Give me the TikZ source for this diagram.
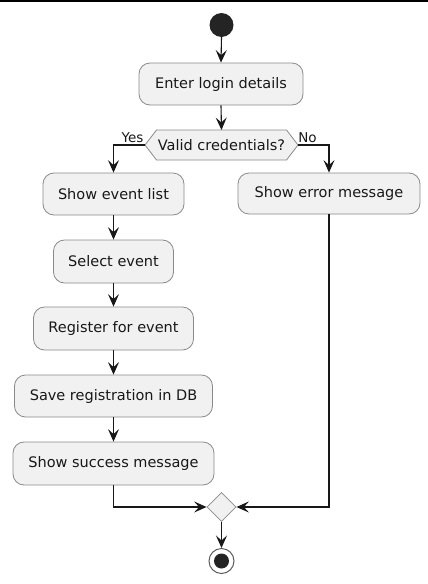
\documentclass[tikz,border=0pt]{standalone}
\usepackage{fontspec}
\setmainfont{DejaVu Sans}
\usetikzlibrary{arrows.meta,shapes.geometric}
\definecolor{boxfill}{HTML}{F1F1F1}
\definecolor{ink}{HTML}{181818}
\definecolor{rim}{HTML}{8A8A8A}
\begin{document}
\begin{tikzpicture}[x=1pt,y=-1pt,
  act/.style={rounded corners=11pt, draw=rim, fill=boxfill, line width=0.8pt,
    minimum height=42pt, inner sep=0pt, font=\fontsize{14.5}{17}\selectfont, text=ink},
  arr/.style={draw=ink, line width=1.1pt, -{Stealth[length=12.5pt,width=11pt,inset=5pt]}},
  lin/.style={draw=ink, line width=1.1pt},
  lbl/.style={font=\fontsize{13.5}{16}\selectfont, text=ink, inner sep=0pt}]
\useasboundingbox (0,0) rectangle (428,584);
\draw[line width=1.6pt, black] (0,0.8) -- (428,0.8);
% start
\node[circle, fill=ink!95, minimum size=24pt, inner sep=0pt] (start) at (221.5,25) {};
\node[act, minimum width=164pt] (login) at (221,84) {Enter login details};
% decision hexagon
\coordinate (decT) at (221.5,130);
\coordinate (decL) at (145,145);
\coordinate (decR) at (298,145);
\draw[draw=rim, fill=boxfill, line width=0.8pt]
  (decL) -- (156.5,130) -- (286.5,130) -- (decR) -- (286.5,160) -- (156.5,160) -- cycle;
\node[font=\fontsize{14.5}{17}\selectfont, text=ink, inner sep=0pt] (dec) at (221.5,145) {Valid credentials?};
% left branch
\node[act, minimum width=141pt] (list) at (113.5,194) {Show event list};
\node[act, minimum width=120pt, minimum height=43pt] (sel) at (113.5,261.5) {Select event};
\node[act, minimum width=160pt, minimum height=43pt] (reg) at (113.5,328.5) {Register for event};
\node[act, minimum width=198pt] (save) at (113.5,396) {Save registration in DB};
\node[act, minimum width=201pt, minimum height=43pt] (succ) at (113.5,463.5) {Show success message};
% right branch
\node[act, minimum width=182pt, minimum height=41pt] (err) at (329,193.5) {Show error message};
% merge
\node[diamond, draw=rim, fill=boxfill, line width=0.8pt, minimum width=29pt, minimum height=29pt, inner sep=0pt] (merge) at (221.5,507) {};
% end
\node[circle, draw=ink!70, fill=white, line width=1pt, minimum size=25pt, inner sep=0pt,
  path picture={\fill[ink!95] (path picture bounding box.center) circle (7.5pt);}] (end) at (221.5,561) {};
% connectors
\draw[arr] (start.south) -- (login.north);
\draw[arr] (login.south) -- (decT);
\draw[arr] (decL) -| (list.north);
\draw[arr] (decR) -| (err.north);
\node[lbl] (yes) at (132.5,138) {Yes};
\node[lbl] (no) at (307.5,138) {No};
\draw[arr] (list.south) -- (sel.north);
\draw[arr] (sel.south) -- (reg.north);
\draw[arr] (reg.south) -- (save.north);
\draw[arr] (save.south) -- (succ.north);
\draw[arr] (succ.south) |- (merge.west);
\draw[arr] (err.south) |- (merge.east);
\draw[arr] (merge.south) -- (end.north);
\end{tikzpicture}
\end{document}
